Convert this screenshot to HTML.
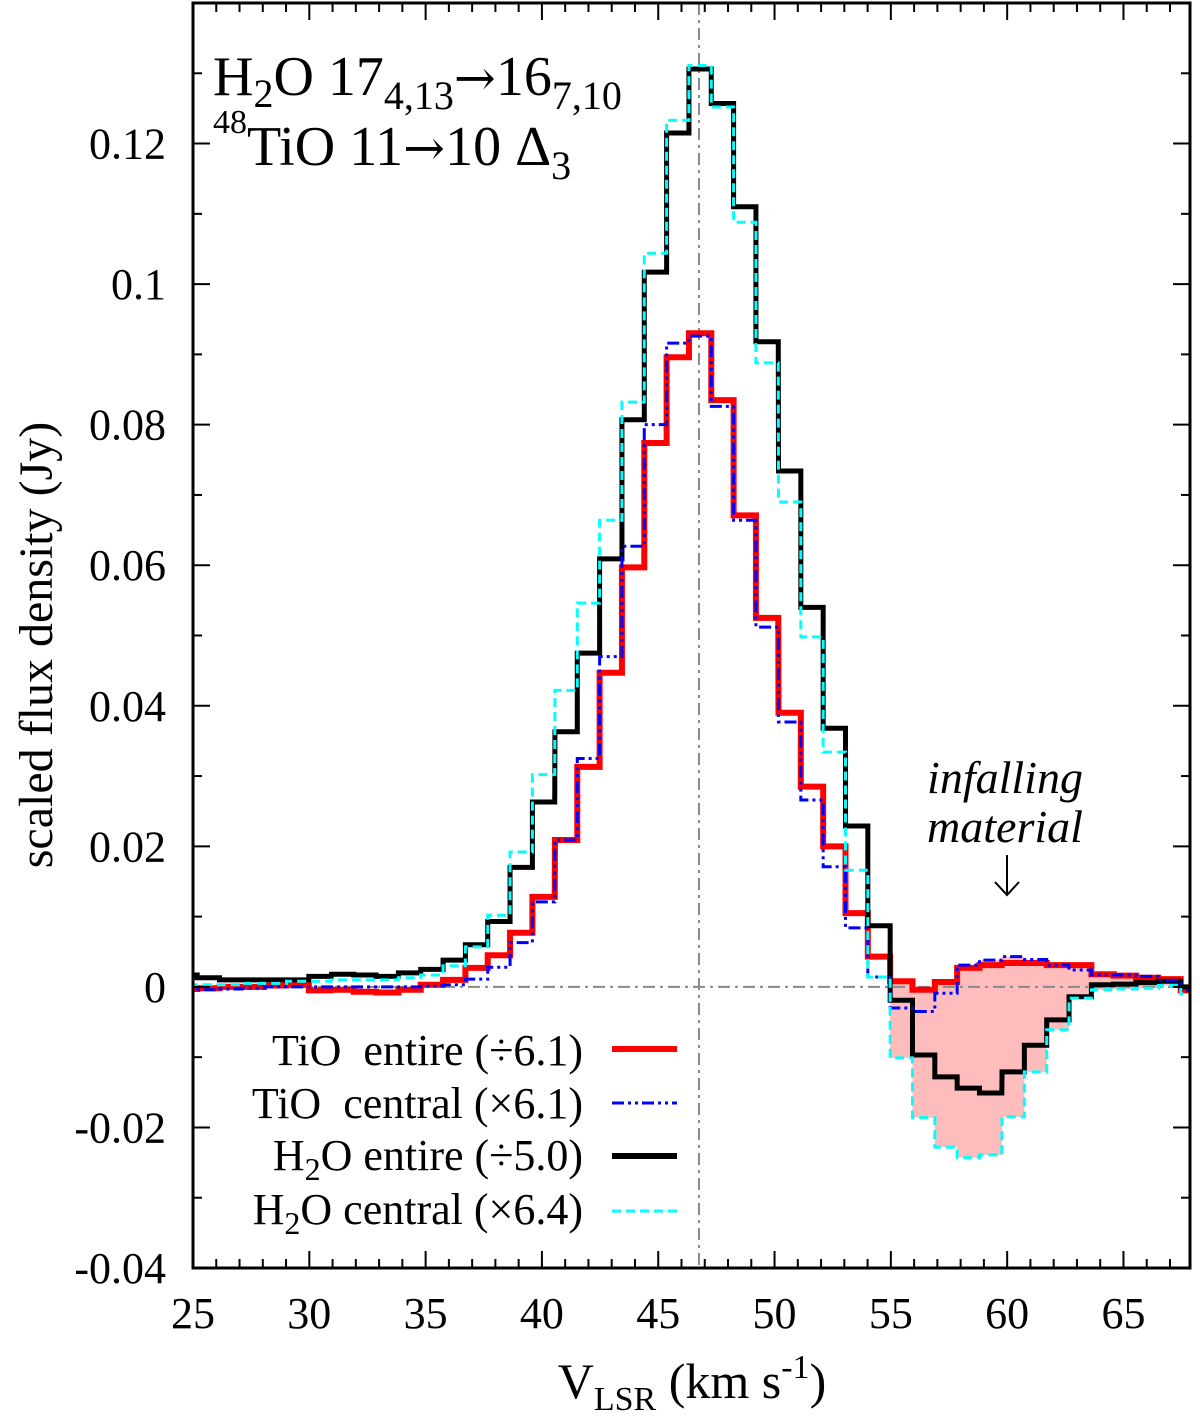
<!DOCTYPE html>
<html><head><meta charset="utf-8"><style>
body{margin:0;background:#fff}
svg text{font-family:"Liberation Serif",serif;fill:#000}
.arr{font-family:"DejaVu Serif",serif}
</style></head><body>
<svg id="chart" width="1200" height="1415" viewBox="0 0 1200 1415" xmlns="http://www.w3.org/2000/svg">
<g id="fill-layer"></g>
<g id="grid-layer"></g>
<g id="series-layer"></g>
<g id="axis-layer"></g>
<text x="213" y="95" font-size="56">H<tspan font-size="40" dy="12">2</tspan><tspan dy="-12">O 17</tspan><tspan font-size="40" dy="14">4,13</tspan><tspan class="arr" font-size="50" dy="-14">→</tspan><tspan>16</tspan><tspan font-size="40" dy="14">7,10</tspan></text>
<text x="213" y="165" font-size="56"><tspan font-size="34" dy="-32">48</tspan><tspan dy="32">TiO 11</tspan><tspan class="arr" font-size="50">→</tspan><tspan>10 Δ</tspan><tspan font-size="40" dy="14">3</tspan></text>
<text x="1005" y="793" font-size="46" font-style="italic" text-anchor="middle">infalling</text>
<text x="1005" y="842" font-size="46" font-style="italic" text-anchor="middle">material</text>
<g stroke="#000" stroke-width="2" fill="none"><line x1="1007" y1="855" x2="1007" y2="895"/><polyline points="995,882 1007,895 1019,882"/></g>
<g font-size="44">
<text x="583" y="1065" text-anchor="end" xml:space="preserve">TiO  entire (÷6.1)</text>
<line x1="612" y1="1049" x2="677" y2="1049" stroke="#f00" stroke-width="6"/>
<text x="583" y="1118" text-anchor="end" xml:space="preserve">TiO  central (×6.1)</text>
<line x1="612" y1="1103" x2="677" y2="1103" stroke="#00f" stroke-width="3" stroke-dasharray="12,4,3,4,3,4"/>
<text x="583" y="1170" text-anchor="end">H<tspan font-size="32" dy="10">2</tspan><tspan dy="-10">O entire (÷5.0)</tspan></text>
<line x1="612" y1="1156" x2="677" y2="1156" stroke="#000" stroke-width="6"/>
<text x="583" y="1224" text-anchor="end">H<tspan font-size="32" dy="10">2</tspan><tspan dy="-10">O central (×6.4)</tspan></text>
<line x1="612" y1="1211" x2="677" y2="1211" stroke="#0ff" stroke-width="3" stroke-dasharray="9,5"/>
</g>
<text x="692" y="1398" font-size="50" text-anchor="middle">V<tspan font-size="34" dy="12">LSR</tspan><tspan dy="-12"> (km s</tspan><tspan font-size="34" dy="-20">-1</tspan><tspan dy="20">)</tspan></text>
<text transform="translate(52,645) rotate(-90)" font-size="48" text-anchor="middle">scaled flux density (Jy)</text>
</svg>
<script>
const velocity=[24.70,25.66,26.62,27.58,28.54,29.50,30.46,31.43,32.39,33.35,34.31,35.27,36.23,37.19,38.15,39.11,40.07,41.04,42.00,42.96,43.92,44.88,45.84,46.80,47.76,48.72,49.68,50.65,51.61,52.57,53.53,54.49,55.45,56.41,57.37,58.33,59.29,60.26,61.22,62.18,63.14,64.10,65.06,66.02,66.98,67.94];
const h2oEntire=[0.0017,0.0013,0.001,0.001,0.001,0.001,0.0015,0.0018,0.0017,0.0015,0.002,0.0025,0.0038,0.006,0.0093,0.017,0.0263,0.0363,0.0475,0.0609,0.0807,0.1017,0.1215,0.1306,0.1257,0.111,0.0918,0.0734,0.054,0.0368,0.0229,0.0087,-0.0019,-0.0097,-0.0128,-0.0144,-0.0151,-0.0121,-0.0083,-0.0047,-0.0014,0.0003,0.0004,0.0006,0.0008,0.0];
const h2oCentral=[0.0003,0.0003,0.0003,0.0005,0.0005,0.0008,0.0008,0.001,0.001,0.001,0.0013,0.0017,0.003,0.0057,0.0102,0.0192,0.0302,0.0422,0.0546,0.0664,0.0832,0.1044,0.1233,0.1311,0.1252,0.1088,0.0888,0.069,0.0498,0.0334,0.0166,0.0014,-0.0101,-0.0186,-0.0228,-0.0243,-0.0239,-0.0185,-0.0121,-0.0061,-0.0016,-0.0004,-0.0003,-0.0002,0.0002,-0.001];
const tioEntire=[-0.0003,-0.0002,0,0,0.0002,0.0003,-0.0005,-0.0004,-0.0007,-0.0008,-0.0004,0.0003,0.001,0.0027,0.0045,0.0077,0.0128,0.0209,0.0313,0.0447,0.0597,0.0774,0.0896,0.093,0.0835,0.0671,0.0525,0.039,0.0285,0.02,0.0105,0.0043,0.0008,-0.0004,0.0007,0.0027,0.0031,0.0034,0.0034,0.0031,0.0031,0.0018,0.0016,0.0013,0.0011,-0.0005];
const tioCentral=[-0.0005,-0.0004,-0.0003,-0.0002,0,0,0,0,0,0,0,0.0001,0.0003,0.0011,0.0028,0.0063,0.0121,0.0209,0.0325,0.047,0.0627,0.08,0.0916,0.0926,0.0826,0.0664,0.0512,0.0377,0.0266,0.0171,0.0084,0.0014,-0.003,-0.0035,-0.0009,0.0031,0.0038,0.0043,0.0039,0.0031,0.0024,0.0017,0.0017,0.0015,0.0009,-0.0005];
const xTicks=[25,30,35,40,45,50,55,60,65];
const yTicks=[-0.04,-0.02,0,0.02,0.04,0.06,0.08,0.1,0.12];
const yTickLabels=["-0.04","-0.02","0","0.02","0.04","0.06","0.08","0.1","0.12"];
const peakVelocity=46.75;
const infallRange=[55.0,67.5];

const NS="http://www.w3.org/2000/svg";
const L=193,R=1190,T=3,B=1268;
const xMin=25,xMax=67.86,yMin=-0.04,yMax=0.14;
const xs=v=>L+(v-xMin)/(xMax-xMin)*(R-L);
const ys=v=>B-(v-yMin)/(yMax-yMin)*(B-T);
const binW=0.961;
function mk(tag,attrs,parent){const e=document.createElementNS(NS,tag);for(const k in attrs)e.setAttribute(k,attrs[k]);parent.appendChild(e);return e;}
const clip=mk('clipPath',{id:'plotclip'},document.getElementById('chart'));
mk('rect',{x:L,y:T,width:R-L,height:B-T},clip);

function stepPts(vals){
  const pts=[];
  for(let i=0;i<vals.length;i++){
    const x0=xs(velocity[i]-binW/2),x1=xs(velocity[i]+binW/2),y=ys(vals[i]);
    pts.push([x0,y],[x1,y]);
  }
  return pts;
}
const fl=document.getElementById('fill-layer');
{
  const idx=[];velocity.forEach((v,i)=>{if(v>=infallRange[0]&&v<=infallRange[1])idx.push(i);});
  const top=[],bot=[];
  idx.forEach(i=>{const x0=xs(velocity[i]-binW/2),x1=xs(velocity[i]+binW/2);
    const u=ys(Math.max(tioEntire[i],tioCentral[i])),d=ys(Math.min(h2oCentral[i],h2oEntire[i]));
    top.push([x0,u],[x1,u]);bot.push([x0,d],[x1,d]);});
  const pts=top.concat(bot.reverse());
  const p=mk('polygon',{points:pts.map(p=>p.join(',')).join(' '),fill:'#ffbcbc','clip-path':'url(#plotclip)'},fl);
  
  
}
const gl=document.getElementById('grid-layer');
const h=mk('line',{x1:L,x2:R,y1:ys(0),y2:ys(0),stroke:'#888',"stroke-width":2,"stroke-dasharray":"12,5,3,5"},gl);


const vline=mk('line',{x1:xs(peakVelocity),x2:xs(peakVelocity),y1:T,y2:B,stroke:'#888',"stroke-width":2,"stroke-dasharray":"12,5,3,5"},gl);


const sl=document.getElementById('series-layer');
const series=[
 [tioEntire,'#f00',6,'none','series-tio-entire'],
 [h2oEntire,'#000',5,'none','series-h2o-entire'],
 [tioCentral,'#00f',3,'12,4,3,4,3,4','series-tio-central'],
 [h2oCentral,'#0ff',3,'9,5','series-h2o-central']];
series.forEach(s=>{
  const p=mk('polyline',{points:stepPts(s[0]).map(p=>p.join(',')).join(' '),fill:'none',stroke:s[1],'stroke-width':s[2],'stroke-dasharray':s[3],'clip-path':'url(#plotclip)'},sl);
  
  
});
const al=document.getElementById('axis-layer');
const fr=mk('rect',{x:L,y:T,width:R-L,height:B-T,fill:'none',stroke:'#000','stroke-width':3},al);


for(let v=25;v<=67;v++){
  const x=xs(v),len=(v%5===0)?17:9;
  mk('line',{x1:x,x2:x,y1:B,y2:B-len,stroke:'#000','stroke-width':2},al);
  mk('line',{x1:x,x2:x,y1:T,y2:T+len,stroke:'#000','stroke-width':2},al);
}
for(let k=-4;k<=13;k++){
  const y=ys(k/100),len=(k%2===0)?17:9;
  mk('line',{x1:L,x2:L+len,y1:y,y2:y,stroke:'#000','stroke-width':2},al);
  mk('line',{x1:R,x2:R-len,y1:y,y2:y,stroke:'#000','stroke-width':2},al);
}
xTicks.forEach(v=>{
  const t=mk('text',{x:xs(v),y:1328,'font-size':44,'text-anchor':'middle'},al);
  t.textContent=v;
  
  
});
yTicks.forEach((v,i)=>{
  const t=mk('text',{x:166,y:ys(v)+15,'font-size':44,'text-anchor':'end'},al);
  t.textContent=yTickLabels[i];
  
  
});
</script>
</body></html>
